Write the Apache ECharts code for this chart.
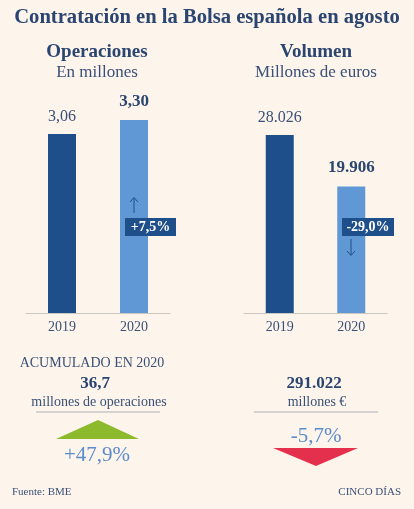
<!DOCTYPE html>
<html><head><meta charset="utf-8">
<script src="https://cdn.jsdelivr.net/npm/echarts@6/dist/echarts.min.js"></script>
<style>html,body{margin:0;padding:0;background:#fdf4eb;}#c{width:414px;height:509px;}</style>
</head><body><div id="c"></div>
<script>
var years = ['2019', '2020'];
var operaciones = [3.06, 3.30];
var volumen = [28026, 19906];
var opLabels = ['3,06', '3,30'];
var volLabels = ['28.026', '19.906'];
var changes = ['+7,5%', '-29,0%'];
var acumValues = ['36,7', '291.022'];
var acumUnits = ['millones de operaciones', 'millones €'];
var acumChanges = ['+47,9%', '-5,7%'];

var DARK = '#1f4f8a', LIGHT = '#5f98d4', NAVY = '#2b4571', TXT = '#3a5078', FONT = '"Liberation Serif", serif';
var chart = echarts.init(document.getElementById('c'), null, {renderer: 'canvas'});

function barData(vals, labels) {
  return vals.map(function (v, i) {
    var bold = i === 1;
    return {
      value: v,
      itemStyle: {color: i === 0 ? DARK : LIGHT},
      label: {
        show: true, position: 'top', distance: bold ? 10 : 9,
        formatter: labels[i], fontFamily: FONT,
        fontSize: bold ? 17 : 16, fontWeight: bold ? 'bold' : 'normal',
        color: bold ? NAVY : TXT
      }
    };
  });
}
function txt(x, y, s, size, weight, color, align) {
  return {type: 'text', x: x, y: y, z: 100, style: {text: s, font: (weight || 'normal') + ' ' + size + 'px ' + FONT,
    fill: color || NAVY, textAlign: align || 'center', textVerticalAlign: 'middle', align: align || 'center', verticalAlign: 'middle'}};
}
function shape(o) { o.z = 100; return o; }
var xAxisCommon = {type: 'category', axisTick: {show: false},
  axisLine: {lineStyle: {color: '#cbc8c4', width: 1}},
  axisLabel: {fontFamily: FONT, fontSize: 14, color: TXT, margin: 7}};

chart.setOption({
  backgroundColor: '#fdf4eb',
  animation: false,
  grid: [
    {left: 26, width: 144, top: 102.5, height: 210.5},
    {left: 244, width: 143, top: 122.5, height: 190.5}
  ],
  xAxis: [
    Object.assign({gridIndex: 0, data: years}, xAxisCommon),
    Object.assign({gridIndex: 1, data: years}, xAxisCommon)
  ],
  yAxis: [
    {gridIndex: 0, type: 'value', min: 0, max: 3.6, show: false, splitLine: {show: false}},
    {gridIndex: 1, type: 'value', min: 0, max: 30000, show: false, splitLine: {show: false}}
  ],
  series: [
    {type: 'bar', xAxisIndex: 0, yAxisIndex: 0, barWidth: 28, data: barData(operaciones, opLabels)},
    {type: 'bar', xAxisIndex: 1, yAxisIndex: 1, barWidth: 28, data: barData(volumen, volLabels)}
  ],
  graphic: [
    txt(207, 18, 'Contratación en la Bolsa española en agosto', 20.6, 'bold', NAVY),
    txt(97, 52, 'Operaciones', 19, 'bold', NAVY),
    txt(97, 73, 'En millones', 17, 'normal', TXT),
    txt(316, 52, 'Volumen', 19, 'bold', NAVY),
    txt(316, 73, 'Millones de euros', 17, 'normal', TXT),
    shape({type: 'line', shape: {x1: 134, y1: 213, x2: 134, y2: 198}, style: {stroke: DARK, lineWidth: 1}}),
    shape({type: 'polyline', shape: {points: [[130, 202], [134, 197.5], [138, 202]]}, style: {stroke: DARK, lineWidth: 1, fill: null}}),
    shape({type: 'rect', shape: {x: 125, y: 218, width: 51, height: 18}, style: {fill: DARK}}),
    txt(150.5, 227.5, changes[0], 14, 'bold', '#ffffff'),
    shape({type: 'rect', shape: {x: 342, y: 218, width: 52, height: 18}, style: {fill: DARK}}),
    txt(368, 227.5, changes[1], 14, 'bold', '#ffffff'),
    shape({type: 'line', shape: {x1: 351, y1: 239, x2: 351, y2: 255}, style: {stroke: DARK, lineWidth: 1}}),
    shape({type: 'polyline', shape: {points: [[347, 251], [351, 255.5], [355, 251]]}, style: {stroke: DARK, lineWidth: 1, fill: null}}),
    txt(92, 363, 'ACUMULADO EN 2020', 14, 'normal', TXT),
    txt(95, 384, acumValues[0], 17, 'bold', NAVY),
    txt(99, 402, acumUnits[0], 14, 'normal', TXT),
    shape({type: 'line', shape: {x1: 36, y1: 412, x2: 160, y2: 412}, style: {stroke: '#aeb1b8', lineWidth: 1}}),
    shape({type: 'polygon', shape: {points: [[56, 439], [98, 420], [139, 439]]}, style: {fill: '#8cba2c'}}),
    txt(97, 455, acumChanges[0], 21, 'normal', '#5b8ccb'),
    txt(314, 384, acumValues[1], 17, 'bold', NAVY),
    txt(317, 402, acumUnits[1], 14, 'normal', TXT),
    shape({type: 'line', shape: {x1: 254, y1: 412, x2: 378, y2: 412}, style: {stroke: '#aeb1b8', lineWidth: 1}}),
    txt(316, 436, acumChanges[1], 21, 'normal', '#5b8ccb'),
    shape({type: 'polygon', shape: {points: [[273, 448], [358, 448], [316, 466]]}, style: {fill: '#e5304d'}}),
    txt(12, 492, 'Fuente: BME', 11, 'normal', TXT, 'left'),
    txt(401, 492, 'CINCO DÍAS', 11, 'normal', TXT, 'right')
  ]
});
</script></body></html>
